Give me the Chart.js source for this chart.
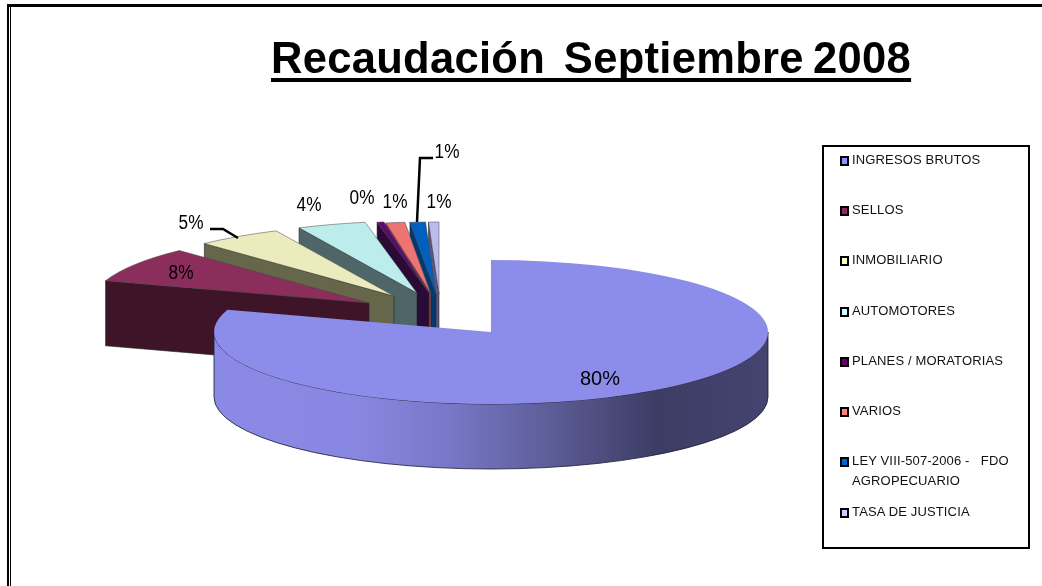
<!DOCTYPE html>
<html>
<head>
<meta charset="utf-8">
<script src="https://cdn.jsdelivr.net/npm/chart.js@4"></script>
<style>
  html, body { margin: 0; background: #fff; }
  #wrap { position: relative; width: 1042px; height: 586px; overflow: hidden; }
  #frame { position: absolute; left: 7px; top: 4px; width: 1100px; height: 700px; border: 3px solid #000; border-width: 3px 0 0 2px; }
  #frame2 { position: absolute; left: 10px; top: 7px; width: 1px; height: 600px; background: #000; }
  #title { position: absolute; left: 271px; top: 34px; font: bold 43.5px "Liberation Sans", sans-serif; color: #000; white-space: pre; word-spacing: -3px; letter-spacing: .3px; text-decoration: underline; text-decoration-thickness: 4px; text-underline-offset: 5px; text-decoration-skip-ink: none; }
  canvas { position: absolute; left: 0; top: 0; }
  #legend { position: absolute; left: 822px; top: 145px; width: 204px; height: 400px; border: 2px solid #000; background: #fff; }
  .row { position: absolute; left: 16px; width: 186px; font: 13px/20px "Liberation Sans", sans-serif; letter-spacing: .15px; color: #111; padding-left: 12px; white-space: pre-wrap; }
  .row i { position: absolute; left: 0; top: 6px; width: 5px; height: 6px; border: 2px solid #000; }
</style>
</head>
<body>
<div id="wrap">
  <div id="frame"></div><div id="frame2"></div>
  <canvas id="pie" width="1042" height="586"></canvas>
  <div id="title">Recaudación  Septiembre 2008</div>
  <div id="legend"></div>
</div>
<script>
// Chart data
const categories = ["INGRESOS BRUTOS", "SELLOS", "INMOBILIARIO", "AUTOMOTORES", "PLANES / MORATORIAS", "VARIOS", "LEY VIII-507-2006 -   FDO AGROPECUARIO", "TASA DE JUSTICIA"];
const values = [80, 8, 5, 4, 0.4, 1.1, 0.9, 0.6];

// Colors
const topColors = ["#8c8cea", "#8b2e5c", "#ecebbe", "#bcecec", "#5d0a6e", "#ee7373", "#0060c0", "#bcbcec"];
const wallColors = ["#3e3e68", "#3d1428", "#66664a", "#4f6668", "#2a0a36", "#8a4a4a", "#003a70", "#5a5a80"];
const legendColors = ["#8f8fff", "#8b2e5c", "#ffffcc", "#ccffff", "#660066", "#ff8080", "#0066cc", "#ccccff"];

// Look of the 3D pie
const flatten = 72 / 277;
const depth = 65;
const explode = [[0, 0], [-122, -29], [-97, -36], [-74, -39], [-62, -39], [-60, -38], [-55, -38], [-52, -38]];
const labelAt = [[600, 379], [181, 273], [191, 223], [309, 205], [362, 198], [395, 202], [447, 152], [439, 202]];
const leaders = [[[210, 229], [223, 229], [238, 238]], [[433, 158], [420, 158], [417, 222]]];
const legendTops = [3, 53, 103, 154, 204, 254, 304, 355];

// Draws one slice: side wall first, then the top from the library's arc
function drawSlice(ctx, arc, i) {
  const { x, y, startAngle, outerRadius: r } = arc;
  const ry = r * flatten;
  const ox = explode[i][0], oy = explode[i][1];
  ctx.save();
  if (i === 0) {
    // outer rim of the big slice
    const g = ctx.createLinearGradient(x - r, 0, x + r, 0);
    g.addColorStop(0, "#8a8ae6");
    g.addColorStop(0.25, "#8888e2");
    g.addColorStop(0.42, "#7878c8");
    g.addColorStop(0.6, "#5e5e9a");
    g.addColorStop(0.8, "#3c3c64");
    g.addColorStop(1, "#444470");
    ctx.beginPath();
    ctx.ellipse(x, y, r, ry, 0, 0, Math.PI);
    ctx.ellipse(x, y + depth, r, ry, 0, Math.PI, 0, true);
    ctx.closePath();
    ctx.fillStyle = g;
    ctx.fill();
    ctx.lineWidth = 1;
    ctx.strokeStyle = "rgba(25,25,50,.8)";
    ctx.stroke();
  } else {
    // cut face on the left side of an exploded slice
    const ax = x + ox, ay = y + oy;
    const px = ax + r * Math.cos(startAngle), py = ay + ry * Math.sin(startAngle);
    ctx.beginPath();
    ctx.moveTo(px, py);
    ctx.lineTo(ax, ay);
    ctx.lineTo(ax, ay + depth);
    ctx.lineTo(px, py + depth);
    ctx.closePath();
    ctx.fillStyle = wallColors[i];
    ctx.fill();
    ctx.lineWidth = 0.6;
    ctx.strokeStyle = "#222";
    ctx.stroke();
  }
  // top face
  ctx.translate(x + ox, y + oy);
  ctx.scale(1, flatten);
  ctx.translate(-x, -y);
  arc.draw(ctx);
  ctx.restore();
}

const pie3d = {
  id: "pie3d",
  beforeDatasetDraw(chart, args) {
    const ctx = chart.ctx;
    const arcs = args.meta.data;
    // back slices first, big slice last
    for (let i = arcs.length - 1; i >= 0; i--) drawSlice(ctx, arcs[i], i);
    return false;
  },
  afterDatasetsDraw(chart) {
    const ctx = chart.ctx;
    ctx.save();
    ctx.strokeStyle = "#000";
    ctx.lineWidth = 2.5;
    leaders.forEach(l => {
      ctx.beginPath();
      l.forEach((p, n) => n ? ctx.lineTo(p[0], p[1]) : ctx.moveTo(p[0], p[1]));
      ctx.stroke();
    });
    const total = values.reduce((a, b) => a + b, 0);
    ctx.fillStyle = "#000";
    ctx.font = '20px "Liberation Sans", sans-serif';
    ctx.textAlign = "center";
    ctx.textBaseline = "middle";
    values.forEach((v, i) => {
      // the small labels are drawn a bit narrower in the original
      ctx.save();
      ctx.translate(labelAt[i][0], labelAt[i][1]);
      if (i > 0) ctx.scale(0.86, 1);
      ctx.fillText(Math.round(v / total * 100) + "%", 0, 0);
      ctx.restore();
    });
    ctx.restore();
  }
};

new Chart(document.getElementById("pie"), {
  type: "pie",
  data: {
    labels: categories,
    datasets: [{ data: values, backgroundColor: topColors, borderColor: "rgba(70,70,70,.8)", borderWidth: [0, 1, 1, 1, 1, 1, 1, 1] }]
  },
  options: {
    responsive: false,
    animation: false,
    radius: 277,
    layout: { padding: { top: 78, right: 60 } },
    plugins: { legend: { display: false }, tooltip: { enabled: false } }
  },
  plugins: [pie3d]
});

// Legend box
const legend = document.getElementById("legend");
categories.forEach((name, i) => {
  const row = document.createElement("div");
  row.className = "row";
  row.style.top = legendTops[i] + "px";
  const sw = document.createElement("i");
  sw.style.background = legendColors[i];
  row.appendChild(sw);
  row.appendChild(document.createTextNode(name));
  legend.appendChild(row);
});
</script>
</body>
</html>
